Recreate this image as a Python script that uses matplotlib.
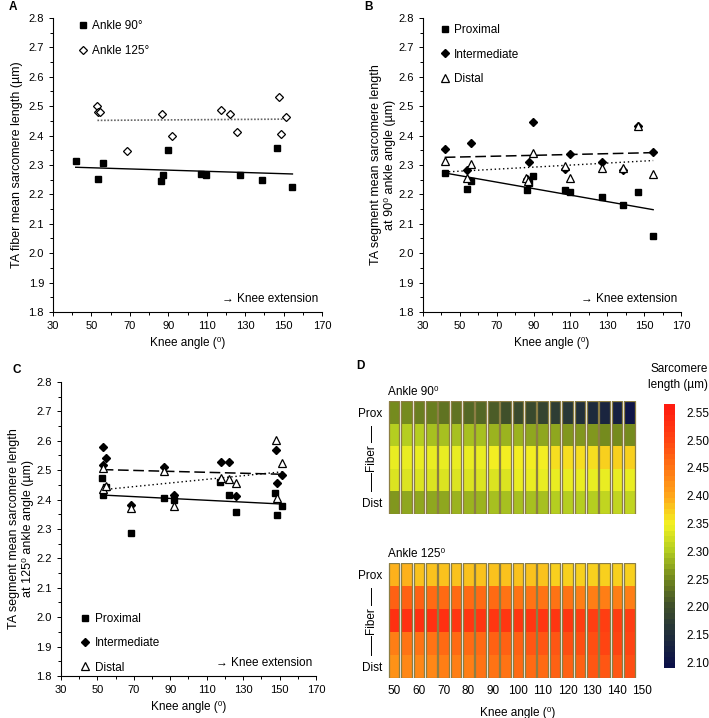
import matplotlib.pyplot as plt
import numpy as np
from matplotlib.colors import LinearSegmentedColormap, ListedColormap
from matplotlib.ticker import FixedLocator, MultipleLocator, FormatStrFormatter

plt.rcParams['font.family'] = ['Liberation Sans', 'DejaVu Sans']
plt.rcParams['font.size'] = 7.5

# ---- panel A: fibre mean sarcomere length ----
a90_knee = [41.8, 53.6, 56.0, 86.2, 87.3, 89.7, 107.0, 109.5, 127.3, 138.5, 146.4, 154.6]
a90_sl = [2.312, 2.253, 2.308, 2.244, 2.266, 2.350, 2.269, 2.267, 2.265, 2.248, 2.359, 2.224]
a125_knee = [53.1, 53.4, 54.7, 68.5, 86.6, 91.9, 117.5, 122.1, 125.8, 147.5, 148.5, 151.0]
a125_sl = [2.500, 2.479, 2.479, 2.348, 2.472, 2.397, 2.488, 2.472, 2.412, 2.531, 2.404, 2.463]

# ---- panel B: segments at 90 deg ankle ----
b_knee = [41.8, 53.8, 56.1, 86.4, 87.3, 89.8, 107.1, 109.8, 127.4, 138.8, 146.8, 154.9]
b_prox = [2.271, 2.217, 2.247, 2.216, 2.240, 2.263, 2.216, 2.209, 2.191, 2.164, 2.209, 2.059]
b_int = [2.353, 2.282, 2.374, 2.251, 2.310, 2.445, 2.287, 2.336, 2.309, 2.284, 2.434, 2.345]
b_dist_knee = [41.8, 53.8, 56.1, 85.9, 87.1, 89.7, 107.1, 109.8, 127.4, 138.8, 146.8, 154.9]
b_dist = [2.315, 2.256, 2.303, 2.256, 2.247, 2.341, 2.296, 2.256, 2.290, 2.290, 2.434, 2.269]

# ---- panel C: segments at 125 deg ankle ----
c_prox_knee = [52.7, 53.05, 54.9, 68.3, 86.4, 91.9, 117.3, 122.4, 126.1, 147.5, 148.6, 151.2]
c_prox = [2.475, 2.417, 2.443, 2.286, 2.404, 2.398, 2.460, 2.415, 2.358, 2.423, 2.346, 2.378]
c_int_knee = [52.9, 53.2, 54.7, 68.3, 86.7, 92.0, 117.7, 122.4, 126.1, 148.0, 148.6, 151.2]
c_int = [2.580, 2.517, 2.540, 2.382, 2.511, 2.417, 2.529, 2.529, 2.413, 2.570, 2.456, 2.485]
c_dist_knee = [52.9, 53.2, 54.9, 68.3, 86.7, 92.0, 117.7, 122.4, 125.9, 147.9, 148.8, 151.2]
c_dist = [2.508, 2.437, 2.445, 2.370, 2.497, 2.379, 2.472, 2.469, 2.458, 2.602, 2.406, 2.523]

# ---- panel D: heat maps, rows prox -> dist, columns knee 50..145 ----
heat_knee = [50, 55, 60, 65, 70, 75, 80, 85, 90, 95, 100, 105, 110, 115, 120, 125, 130, 135, 140, 145]
heat90 = [
    [2.258, 2.253, 2.248, 2.243, 2.238, 2.232, 2.226, 2.219, 2.212, 2.205,
     2.198, 2.191, 2.183, 2.175, 2.167, 2.158, 2.148, 2.135, 2.120, 2.100],
    [2.302, 2.300, 2.298, 2.296, 2.294, 2.292, 2.290, 2.288, 2.285, 2.282,
     2.279, 2.276, 2.273, 2.270, 2.267, 2.264, 2.261, 2.257, 2.253, 2.249],
    [2.340, 2.341, 2.342, 2.343, 2.344, 2.345, 2.346, 2.347, 2.348, 2.350,
     2.352, 2.354, 2.356, 2.358, 2.361, 2.364, 2.367, 2.370, 2.373, 2.376],
    [2.333, 2.333, 2.334, 2.334, 2.335, 2.335, 2.336, 2.336, 2.337, 2.337,
     2.338, 2.338, 2.339, 2.339, 2.340, 2.340, 2.341, 2.341, 2.342, 2.342],
    [2.268, 2.271, 2.273, 2.276, 2.278, 2.281, 2.283, 2.286, 2.288, 2.290,
     2.292, 2.294, 2.296, 2.298, 2.300, 2.303, 2.305, 2.308, 2.310, 2.313],
]
heat125 = [
    [2.388, 2.387, 2.386, 2.386, 2.385, 2.384, 2.383, 2.382, 2.381, 2.380,
     2.379, 2.378, 2.377, 2.376, 2.375, 2.374, 2.373, 2.372, 2.371, 2.370],
    [2.470, 2.469, 2.467, 2.466, 2.464, 2.463, 2.461, 2.460, 2.458, 2.456,
     2.455, 2.453, 2.451, 2.450, 2.448, 2.446, 2.445, 2.443, 2.441, 2.440],
    [2.530, 2.529, 2.528, 2.527, 2.526, 2.525, 2.524, 2.523, 2.522, 2.521,
     2.520, 2.519, 2.518, 2.517, 2.516, 2.515, 2.514, 2.513, 2.512, 2.511],
    [2.445, 2.448, 2.451, 2.454, 2.457, 2.460, 2.463, 2.466, 2.469, 2.472,
     2.475, 2.478, 2.481, 2.484, 2.487, 2.490, 2.493, 2.496, 2.498, 2.500],
    [2.425, 2.428, 2.432, 2.435, 2.438, 2.442, 2.445, 2.448, 2.452, 2.455,
     2.458, 2.462, 2.465, 2.468, 2.472, 2.475, 2.478, 2.482, 2.485, 2.488],
]
cbar_ticks = [2.10, 2.15, 2.20, 2.25, 2.30, 2.35, 2.40, 2.45, 2.50, 2.55]

VMIN, VMAX = 2.09, 2.565
cmap_nodes = [(2.09, '#0b1048'), (2.15, '#22303a'), (2.20, '#40502a'),
              (2.25, '#72881e'), (2.30, '#b2cc20'), (2.35, '#f2f222'),
              (2.40, '#ffa81a'), (2.45, '#ff7814'), (2.50, '#ff4812'),
              (2.565, '#ff1c10')]
smooth = LinearSegmentedColormap.from_list(
    'sl', [((v - VMIN) / (VMAX - VMIN), c) for v, c in cmap_nodes])
cmap = ListedColormap(smooth(np.linspace(0, 1, 48)))
norm = plt.Normalize(VMIN, VMAX)


def style_axis(ax):
    ax.set_xlim(30, 170)
    ax.set_ylim(1.8, 2.8)
    ax.xaxis.set_major_locator(FixedLocator(range(30, 171, 20)))
    ax.xaxis.set_minor_locator(FixedLocator(range(40, 171, 20)))
    ax.yaxis.set_major_locator(MultipleLocator(0.1))
    ax.yaxis.set_minor_locator(MultipleLocator(0.05))
    ax.yaxis.set_major_formatter(FormatStrFormatter('%.1f'))
    ax.spines['top'].set_visible(False)
    ax.spines['right'].set_visible(False)
    for s in ('left', 'bottom'):
        ax.spines[s].set_linewidth(0.8)
    ax.tick_params(which='both', direction='out', length=3, width=0.7, labelsize=8)
    ax.tick_params(which='minor', length=2.5)
    ax.set_xlabel('Knee angle (\u2070)', fontsize=8.5, labelpad=4)
    ax.text(0.985, 0.045, '\u2192 Knee extension', transform=ax.transAxes,
            ha='right', va='center', fontsize=8.5)


def fit_line(ax, x, y, **kw):
    k, b = np.polyfit(x, y, 1)
    xs = np.array([min(x), max(x)])
    ax.plot(xs, k * xs + b, color='black', **kw)


fig = plt.figure(figsize=(7.09, 7.18), dpi=100)

sq = dict(marker='s', ms=5, ls='none', color='black')
dia_open = dict(marker='D', ms=4.3, ls='none', mfc='white', mec='black', mew=0.9)
dia = dict(marker='D', ms=4.3, ls='none', color='black')
tri = dict(marker='^', ms=5.8, ls='none', mfc='white', mec='black', mew=0.9)

# A
axA = fig.add_axes([0.0748, 0.5655, 0.3794, 0.4095])
style_axis(axA)
fit_line(axA, a90_knee, a90_sl, lw=1.0)
fit_line(axA, a125_knee, a125_sl, lw=1.2, ls=(0, (1, 1)), alpha=0.6)
axA.plot(a90_knee, a90_sl, label='Ankle 90\u00b0', **sq)
axA.plot(a125_knee, a125_sl, label='Ankle 125\u00b0', **dia_open)
axA.set_ylabel('TA fiber mean sarcomere length (\u00b5m)', fontsize=9)
axA.legend(loc='upper left', bbox_to_anchor=(0.05, 1.03), frameon=False,
           fontsize=8.5, labelspacing=1.15, handletextpad=0.3, handlelength=1)

# B
axB = fig.add_axes([0.5966, 0.5655, 0.3639, 0.4095])
style_axis(axB)
fit_line(axB, b_knee, b_prox, lw=1.0)
fit_line(axB, b_knee, b_int, lw=1.1, ls=(0, (7, 3)))
fit_line(axB, b_dist_knee, b_dist, lw=1.0, ls=(0, (1, 2)))
axB.plot(b_knee, b_prox, label='Proximal', **sq)
axB.plot(b_knee, b_int, label='Intermediate', **dia)
axB.plot(b_dist_knee, b_dist, label='Distal', **tri)
axB.set_ylabel('TA segment mean sarcomere length\nat 90\u2070 ankle angle (\u00b5m)',
               fontsize=9, labelpad=2)
axB.legend(loc='upper left', bbox_to_anchor=(0.02, 1.015), frameon=False,
           fontsize=8.5, labelspacing=1.05, handletextpad=0.3, handlelength=1)

# C
axC = fig.add_axes([0.086, 0.0585, 0.3597, 0.4095])
style_axis(axC)
fit_line(axC, c_prox_knee, c_prox, lw=1.0)
fit_line(axC, c_int_knee, c_int, lw=1.1, ls=(0, (7, 3)))
fit_line(axC, c_dist_knee, c_dist, lw=1.0, ls=(0, (1, 2)))
axC.plot(c_prox_knee, c_prox, label='Proximal', **sq)
axC.plot(c_int_knee, c_int, label='Intermediate', **dia)
axC.plot(c_dist_knee, c_dist, label='Distal', **tri)
axC.set_ylabel('TA segment mean sarcomere length\nat 125\u2070 ankle angle (\u00b5m)',
               fontsize=9, labelpad=2)
axC.legend(loc='lower left', bbox_to_anchor=(0.03, -0.028), frameon=False,
           fontsize=8.5, labelspacing=1.05, handletextpad=0.3, handlelength=1)


# D
def draw_heat(ax, rows, title, show_x):
    for r, vals in enumerate(rows):
        ax.bar(heat_knee, [1] * len(vals), bottom=r, width=4.3,
               color=cmap(norm(np.array(vals))), edgecolor='none')
    ax.bar(heat_knee, [len(rows)] * len(heat_knee), bottom=0, width=4.3,
           fill=False, edgecolor='#8c7e44', linewidth=0.9)
    ax.set_xlim(47.5, 152.5)
    ax.set_ylim(len(rows), 0)
    for s in ax.spines.values():
        s.set_visible(False)
    ax.set_yticks([0.5, 4.5])
    ax.set_yticklabels(['Prox', 'Dist'], fontsize=8.5)
    ax.tick_params(axis='y', length=0, pad=4)
    if show_x:
        ax.set_xticks(range(50, 151, 10))
        ax.tick_params(axis='x', length=0, pad=5, labelsize=8.5)
        ax.set_xlabel('Knee angle (\u2070)', fontsize=8.5, labelpad=7)
    else:
        ax.set_xticks([])
    ax.text(0.0, 1.03, title, transform=ax.transAxes, ha='left', va='bottom',
            fontsize=8.5)
    ax.text(-0.066, 0.5, 'Fiber', transform=ax.transAxes, rotation=90,
            ha='center', va='center', fontsize=8.5)
    ax.plot([-0.066, -0.066], [0.635, 0.78], transform=ax.transAxes,
            color='black', lw=0.7, clip_on=False)
    ax.plot([-0.066, -0.066], [0.20, 0.365], transform=ax.transAxes,
            color='black', lw=0.7, clip_on=False)


axD1 = fig.add_axes([0.5472, 0.2841, 0.3667, 0.1574])
draw_heat(axD1, heat90, 'Ankle 90\u2070', False)
axD2 = fig.add_axes([0.5472, 0.0557, 0.3667, 0.1600])
draw_heat(axD2, heat125, 'Ankle 125\u2070', True)

cax = fig.add_axes([0.9365, 0.0696, 0.0155, 0.3677])
sm = plt.cm.ScalarMappable(norm=norm, cmap=cmap)
cb = fig.colorbar(sm, cax=cax, ticks=cbar_ticks)
cb.outline.set_visible(False)
cb.ax.yaxis.set_major_formatter(FormatStrFormatter('%.2f'))
cb.ax.tick_params(length=0, pad=8, labelsize=8.5)
fig.text(0.998, 0.494, 'Sarcomere\nlength (\u00b5m)', ha='right', va='top',
         fontsize=8.5, linespacing=1.45)

for letter, x, y in [('A', 0.018, 0.99), ('B', 0.52, 0.99),
                     ('C', 0.024, 0.485), ('D', 0.509, 0.49)]:
    fig.text(x, y, letter, fontsize=8.5, fontweight='bold', ha='center', va='center')

fig.savefig('out.png', dpi=100)
